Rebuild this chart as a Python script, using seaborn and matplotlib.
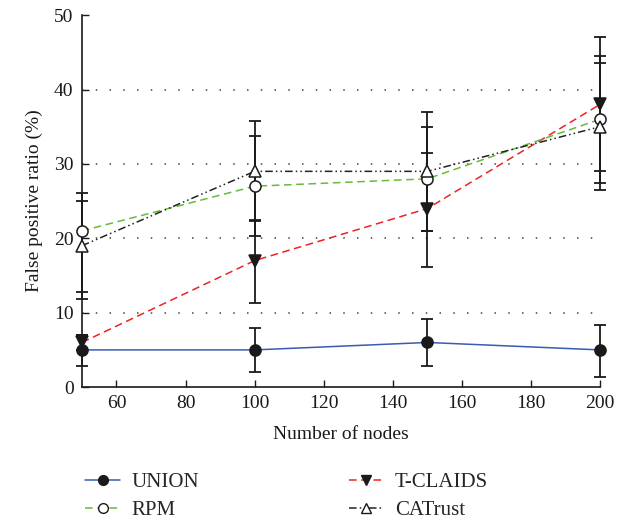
import numpy as np
import pandas as pd
import matplotlib
matplotlib.use("Agg")
import matplotlib.pyplot as plt
import seaborn as sns
from matplotlib.lines import Line2D

nodes = [50, 100, 150, 200]

union = [5, 5, 6, 5]
union_lo = [2.1, 3.0, 3.2, 3.6]
union_hi = [2.0, 3.0, 3.2, 3.4]

tclaids = [6, 17, 24, 38]
tclaids_lo = [1.0, 5.7, 7.8, 9.0]
tclaids_hi = [1.0, 5.4, 7.5, 9.0]

rpm = [21, 27, 28, 36]
rpm_lo = [8.2, 6.7, 7.0, 8.5]
rpm_hi = [4.0, 6.7, 7.0, 8.5]

catrust = [19, 29, 29, 35]
catrust_lo = [7.2, 6.7, 8.0, 8.5]
catrust_hi = [7.1, 6.7, 8.0, 8.5]

sns.set_style("ticks")
plt.rcParams['font.family'] = ['Liberation Serif', 'DejaVu Serif']

fig = plt.figure(figsize=(6.35, 5.21), dpi=100)
ax = fig.add_axes([0.129, 0.257, 0.816, 0.714])

series = [
    ("UNION", union, union_lo, union_hi, "#3a5bb5", "-", "o", "#1a1a1a", "#1a1a1a"),
    ("T-CLAIDS", tclaids, tclaids_lo, tclaids_hi, "#ee2222", (0, (5, 3)), "v", "#1a1a1a", "#1a1a1a"),
    ("RPM", rpm, rpm_lo, rpm_hi, "#66bb3a", (0, (5, 3)), "o", "white", "#1a1a1a"),
    ("CATrust", catrust, catrust_lo, catrust_hi, "#222222", (0, (5, 2, 1, 2, 1, 2)), "^", "white", "#1a1a1a"),
]

# error bars first, lines and markers on top
for name, vals, lo, hi, col, ls, mk, mfc, mec in series:
    ax.errorbar(nodes, vals, yerr=[lo, hi], fmt="none", ecolor="#1a1a1a",
                elinewidth=1.3, capsize=4.5, capthick=1.3, zorder=2, clip_on=False)

styles = {}
for name, vals, lo, hi, col, ls, mk, mfc, mec in series:
    df = pd.DataFrame({"x": nodes, "y": vals})
    sns.lineplot(data=df, x="x", y="y", ax=ax, color=col, linewidth=1.1,
                 zorder=3, clip_on=False)
    ax.lines[-1].set_linestyle(ls)
    ax.plot(nodes, vals, linestyle="none", marker=mk, markersize=8,
            markerfacecolor=mfc, markeredgecolor=mec, markeredgewidth=1.1,
            zorder=4, clip_on=False)
    styles[name] = (col, ls, mk, mfc, mec)

ax.set_xlim(50, 200)
ax.set_ylim(0, 50)
ax.set_xticks(range(60, 201, 20))
ax.set_yticks(range(0, 51, 10))
for yv in [10, 20, 30, 40]:
    ax.axhline(yv, color="#444444", linestyle=(0, (1, 8)), linewidth=1.1, zorder=1)

sns.despine(ax=ax)
for s in ['left', 'bottom']:
    ax.spines[s].set_linewidth(1.2)
    ax.spines[s].set_color("#1a1a1a")
ax.tick_params(direction="in", length=5, width=1, labelsize=14, colors="#1a1a1a", pad=6)

ax.set_xlabel("Number of nodes", fontsize=14, color="#1a1a1a", labelpad=10)
ax.set_ylabel("False positive ratio (%)", fontsize=14, color="#1a1a1a", labelpad=8)

order = ["UNION", "RPM", "T-CLAIDS", "CATrust"]
leg_handles = []
for name in order:
    col, ls, mk, mfc, mec = styles[name]
    leg_handles.append(Line2D([0], [0], color=col, linestyle=ls, linewidth=1.1,
                              marker=mk, markersize=7, markerfacecolor=mfc,
                              markeredgecolor=mec))
fig.legend(leg_handles, order, loc="lower left", bbox_to_anchor=(0.105, -0.034),
           ncol=2, frameon=False, fontsize=15, handlelength=1.65,
           columnspacing=7.2, labelspacing=0.4, handletextpad=0.55)

fig.savefig("out.png", dpi=100)
